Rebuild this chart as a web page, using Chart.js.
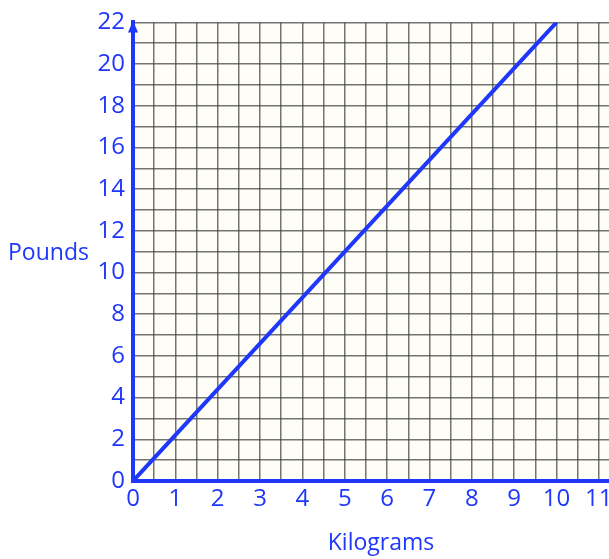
<!DOCTYPE html>
<html>
<head>
<meta charset="utf-8">
<script src="https://cdn.jsdelivr.net/npm/chart.js@4/dist/chart.umd.min.js"></script>
<style>
  html, body { margin: 0; padding: 0; background: #ffffff; overflow: hidden; }
  #wrap { width: 609px; height: 559px; overflow: hidden; position: relative; }
  #c { display: block; }
</style>
</head>
<body>
<div id="wrap"><canvas id="c" width="624" height="559"></canvas></div>
<script>
// Data
const kilograms = [0, 10];
const pounds = [0, 22];
const xTitle = "Kilograms";
const yTitle = "Pounds";

const BLUE = "rgb(30,55,250)";
const FONT = "'Open Sans', 'DejaVu Sans', sans-serif";

const bgPlugin = {
  id: 'bg',
  beforeDraw(chart) {
    const { ctx, chartArea: a } = chart;
    ctx.save();
    ctx.fillStyle = '#fffef6';
    ctx.fillRect(a.left, a.top, a.right - a.left, a.bottom - a.top);
    ctx.restore();
  },
  afterDraw(chart) {
    const { ctx, chartArea: a } = chart;
    ctx.save();
    // arrow head on y axis
    const x0 = chart.scales.x.getPixelForValue(0);
    ctx.fillStyle = BLUE;
    ctx.beginPath();
    ctx.moveTo(x0, a.top - 2);
    ctx.lineTo(x0 - 5, a.top + 10);
    ctx.lineTo(x0 + 5, a.top + 10);
    ctx.closePath();
    ctx.fill();
    // titles
    ctx.fillStyle = BLUE;
    ctx.font = "500 23px " + FONT;
    ctx.textBaseline = 'middle';
    ctx.textAlign = 'left';
    ctx.fillText(yTitle, 8, 253);
    ctx.textAlign = 'center';
    ctx.fillText(xTitle, 381, 543);
    ctx.restore();
  }
};

new Chart(document.getElementById('c'), {
  type: 'line',
  data: {
    datasets: [{
      data: kilograms.map((k, i) => ({ x: k, y: pounds[i] })),
      borderColor: BLUE,
      borderWidth: 4,
      pointRadius: 0,
      tension: 0,
      fill: false
    }]
  },
  options: {
    responsive: false,
    animation: false,
    layout: { padding: { top: 18, left: 0, right: 0, bottom: 0 } },
    plugins: { legend: { display: false }, tooltip: { enabled: false } },
    scales: {
      x: {
        type: 'linear',
        min: 0, max: 11.5,
        afterFit(s) { s.height = 78; },
        border: { display: true, color: BLUE, width: 4 },
        grid: { color: 'rgba(70,70,70,0.75)', lineWidth: 1.5, drawTicks: false },
        ticks: {
          stepSize: 0.5, autoSkip: false, maxRotation: 0,
          color: BLUE, font: { size: 24, family: FONT, weight: '500' }, padding: 4,
          callback: v => (Number.isInteger(v) ? String(v) : '')
        }
      },
      y: {
        type: 'linear',
        min: 0, max: 22,
        afterFit(s) { s.width = 133; },
        border: { display: true, color: BLUE, width: 4 },
        grid: { color: 'rgba(70,70,70,0.75)', lineWidth: 1.5, drawTicks: false },
        ticks: {
          stepSize: 1, autoSkip: false,
          color: BLUE, font: { size: 24, family: FONT, weight: '500' }, padding: 8,
          callback: v => (v % 2 === 0 ? String(v) : '')
        }
      }
    }
  },
  plugins: [bgPlugin]
});
</script>
</body>
</html>
